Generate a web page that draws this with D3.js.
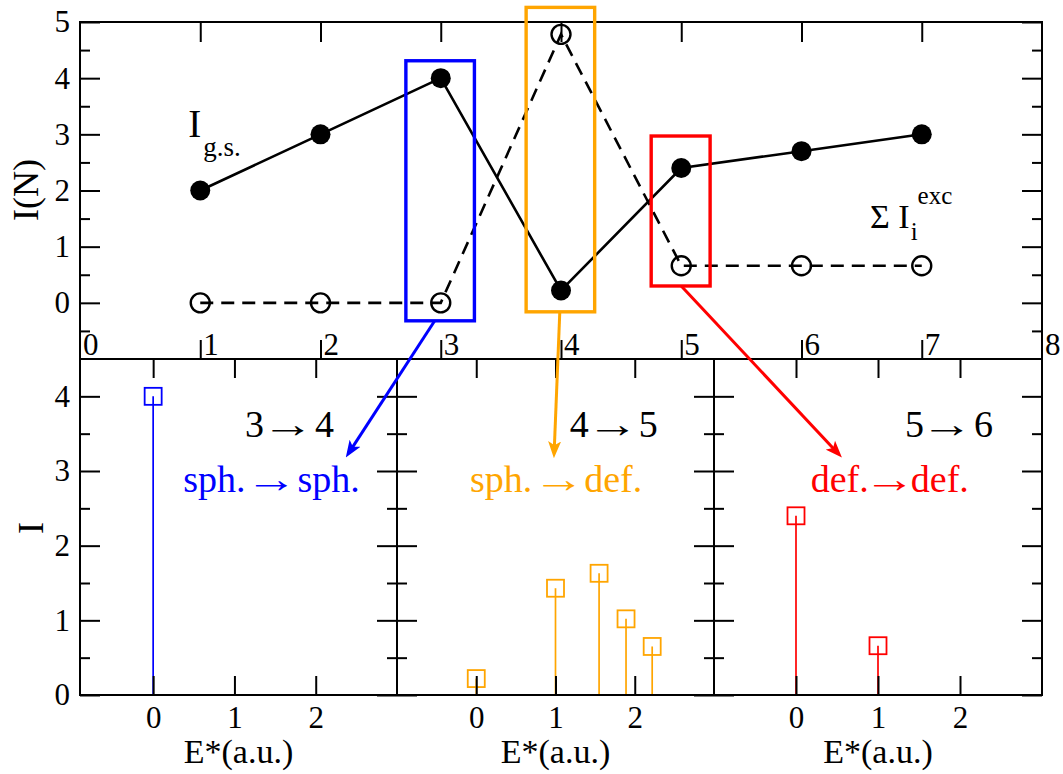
<!DOCTYPE html>
<html>
<head>
<meta charset="utf-8">
<script src="https://cdn.jsdelivr.net/npm/d3@7"></script>
<style>
  body { margin: 0; background: #fff; }
</style>
</head>
<body>
<svg id="chart" width="1063" height="774"></svg>
<script>
// ---- data ----------------------------------------------------------
const nValues      = [1, 2, 3, 4, 5, 6, 7];
const groundState  = [2, 3, 4, 0.22, 2.4, 2.7, 3];      // I_g.s.
const excitedSum   = [0, 0, 0, 4.78, 0.66, 0.66, 0.66];  // sum of I_i^exc

const topXTicks = [0, 1, 2, 3, 4, 5, 6, 7, 8];
const topYTicks = [0, 1, 2, 3, 4, 5];
const botXTicks = [0, 1, 2];
const botYTicks = [0, 1, 2, 3, 4];

// excitation spectra for the three transitions
const energy34    = [0];
const intensity34 = [4];
const energy45    = [0, 1, 1.55, 1.89, 2.22];
const intensity45 = [0.22, 1.43, 1.63, 1.02, 0.65];
const energy56    = [0, 1];
const intensity56 = [2.4, 0.66];

const transitions = [["3", "4"], ["4", "5"], ["5", "6"]];
const shapeLabels = [["sph.", "sph."], ["sph.", "def."], ["def.", "def."]];
const panelColors = ["#0000ff", "#ffa500", "#ff0000"];

// highlighted N values in the upper panel (box extents in data units)
const boxX = [[2.71, 3.28], [3.71, 4.28], [4.75, 5.24]];
const boxY = [[-0.32, 4.31], [-0.16, 5.26], [0.30, 2.97]];
// arrows: from a box (upper panel units) to a spectrum panel (its own units)
const arrowFrom = [[2.95, -0.32], [3.99, -0.16], [5.0, 0.30]];
const arrowTo   = [[2.37, 3.18], [0.98, 3.17], [0.56, 3.18]];

// ---- setup ---------------------------------------------------------
const FONT = '"Liberation Serif", "Times New Roman", serif';
const ARROW = "\u2192";
const svg = d3.select("#chart");
svg.append("rect").attr("width", 1063).attr("height", 774).attr("fill", "#fff");

const defs = svg.append("defs");
panelColors.forEach((c, i) => {
  defs.append("marker")
    .attr("id", "head" + i)
    .attr("viewBox", "-17 -7 17 14")
    .attr("refX", 0).attr("refY", 0)
    .attr("markerWidth", 17).attr("markerHeight", 14)
    .attr("markerUnits", "userSpaceOnUse")
    .attr("orient", "auto")
    .append("path")
    .attr("d", "M0,0 L-17,-6.5 L-13,0 L-17,6.5 Z")
    .attr("fill", c);
});

function styleAxis(g, fontSize) {
  g.select(".domain").remove();
  g.selectAll("line").attr("stroke", "#000").attr("stroke-width", 2);
  g.selectAll("text").attr("font-family", FONT).attr("font-size", fontSize).attr("fill", "#000");
  return g;
}
function addAxis(parent, axis, tx, ty, fontSize = 31) {
  return styleAxis(parent.append("g").attr("transform", `translate(${tx},${ty})`).call(axis), fontSize);
}
const halfSteps = (lo, hi) => d3.range(lo, hi + 0.001, 1).map(v => v + 0.5);

// ink extent of the arrow glyph, used to stretch it into a long thin arrow
const measureCtx = document.createElement("canvas").getContext("2d");
measureCtx.font = '38px "Liberation Serif"';
const arrowInk = measureCtx.measureText(ARROW);
const inkStart = -arrowInk.actualBoundingBoxLeft;
const inkWidth = arrowInk.actualBoundingBoxRight + arrowInk.actualBoundingBoxLeft;
const trailing = Math.max(0, arrowInk.width - arrowInk.actualBoundingBoxRight);
const ARROW_LEN = 33;

function arrowText(parent, parts, x, y, color, gaps) {
  const g = parent.append("g").attr("fill", color)
    .attr("font-family", FONT).attr("font-size", 38);
  const a = g.append("text").attr("x", x).attr("y", y).text(parts[0]);
  const ax = x + a.node().getComputedTextLength() + gaps[0];
  const sx = ARROW_LEN / inkWidth;
  g.append("text")
    .attr("transform", `translate(${ax - inkStart * sx},${y}) scale(${sx},1)`)
    .attr("letter-spacing", -trailing)
    .text(ARROW);
  g.append("text").attr("x", ax + ARROW_LEN + gaps[1]).attr("y", y).text(parts[1]);
  return g;
}

// ---- upper panel: I(N) ----------------------------------------------
const xN = d3.scaleLinear().domain([0, 8]).range([80, 1042]);
const yN = d3.scaleLinear().domain([-1, 5]).range([359, 22]);
const upper = svg.append("g");

const lineN = d3.line().x((d, i) => xN(nValues[i])).y(d => yN(d));
upper.append("path").datum(groundState).attr("d", lineN)
  .attr("fill", "none").attr("stroke", "#000").attr("stroke-width", 2.6);
upper.append("path").datum(excitedSum).attr("d", lineN)
  .attr("fill", "none").attr("stroke", "#000").attr("stroke-width", 2.6)
  .attr("stroke-dasharray", "13,8");

upper.selectAll("circle.gs").data(groundState).join("circle")
  .attr("class", "gs")
  .attr("cx", (d, i) => xN(nValues[i])).attr("cy", d => yN(d)).attr("r", 10)
  .attr("fill", "#000");
upper.selectAll("circle.exc").data(excitedSum).join("circle")
  .attr("class", "exc")
  .attr("cx", (d, i) => xN(nValues[i])).attr("cy", d => yN(d)).attr("r", 9.5)
  .attr("fill", "none").attr("stroke", "#000").attr("stroke-width", 2.4);

// frame and ticks (ticks point inward)
upper.append("rect").attr("x", 80).attr("y", 22).attr("width", 962).attr("height", 337)
  .attr("fill", "none").attr("stroke", "#000").attr("stroke-width", 2);
addAxis(upper, d3.axisLeft(yN).tickValues(topYTicks).tickSize(-20).tickPadding(10).tickFormat(d3.format("d")), 80, 0);
addAxis(upper, d3.axisLeft(yN).tickValues(halfSteps(-1, 4)).tickSize(-10).tickFormat(""), 80, 0);
addAxis(upper, d3.axisRight(yN).tickValues(topYTicks).tickSize(-20).tickFormat(""), 1042, 0);
addAxis(upper, d3.axisRight(yN).tickValues(halfSteps(-1, 4)).tickSize(-10).tickFormat(""), 1042, 0);
addAxis(upper, d3.axisTop(xN).tickValues(nValues).tickSize(-20).tickFormat(""), 0, 22);
addAxis(upper, d3.axisBottom(xN).tickValues(nValues).tickSize(-19).tickFormat(""), 0, 359);
upper.selectAll("text.nlab").data(topXTicks).join("text")
  .attr("class", "nlab")
  .attr("x", d => xN(d) + 3).attr("y", 355)
  .attr("font-family", FONT).attr("font-size", 31).text(d => d);

// series labels
const gsLabel = upper.append("text").attr("font-family", FONT)
  .attr("x", xN(0.9)).attr("y", yN(2.95));
gsLabel.append("tspan").attr("font-size", 39).text("I");
gsLabel.append("tspan").attr("font-size", 27).attr("dx", 2).attr("dy", 19).text("g.s.");

const excLabel = upper.append("text").attr("font-family", FONT)
  .attr("x", xN(6.57)).attr("y", yN(1.33)).attr("font-size", 34);
excLabel.append("tspan").text("\u03A3 I");
excLabel.append("tspan").attr("font-size", 25).attr("dx", 1).attr("dy", 12).text("i");
excLabel.append("tspan").attr("font-size", 25).attr("dx", 0).attr("dy", -36).text("exc");

upper.append("text").attr("font-family", FONT).attr("font-size", 36)
  .attr("transform", "translate(38,190) rotate(-90)")
  .attr("text-anchor", "middle").text("I(N)");

// ---- lower panels: spectra ------------------------------------------
const yI = d3.scaleLinear().domain([0, 4.5]).range([695, 359]);
const panels = [
  { dom: [-0.9, 3], rng: [80, 397],   e: energy34, v: intensity34 },
  { dom: [-1, 3],   rng: [397, 714],  e: energy45, v: intensity45 },
  { dom: [-1, 3],   rng: [714, 1042], e: energy56, v: intensity56 }
];
const transX = [1.13, 1.18, 1.33];
const shapeX = [0.37, -0.08, 0.18];
const transGaps = [[7, 11], [7, 10], [6, 11]];
const shapeGaps = [[9, 10], [10, 9], [4, 5]];

panels.forEach((p, k) => {
  const xE = d3.scaleLinear().domain(p.dom).range(p.rng);
  p.x = xE;
  const g = svg.append("g");
  const col = panelColors[k];
  const pts = p.e.map((e, i) => ({ e, v: p.v[i] }));

  g.selectAll("line.stem").data(pts).join("line")
    .attr("class", "stem")
    .attr("x1", d => xE(d.e)).attr("x2", d => xE(d.e))
    .attr("y1", yI(0)).attr("y2", d => yI(d.v))
    .attr("stroke", col).attr("stroke-width", 1.7);
  g.selectAll("rect.mark").data(pts).join("rect")
    .attr("class", "mark")
    .attr("x", d => xE(d.e) - 8.5).attr("y", d => yI(d.v) - 8.5)
    .attr("width", 17).attr("height", 17)
    .attr("fill", "none").attr("stroke", col).attr("stroke-width", 1.8);

  g.append("rect").attr("x", p.rng[0]).attr("y", 359)
    .attr("width", p.rng[1] - p.rng[0]).attr("height", 336)
    .attr("fill", "none").attr("stroke", "#000").attr("stroke-width", 2);

  const left = d3.axisLeft(yI).tickValues(botYTicks).tickSize(-20).tickPadding(10)
    .tickFormat(k === 0 ? d3.format("d") : "");
  addAxis(g, left, p.rng[0], 0);
  addAxis(g, d3.axisLeft(yI).tickValues(halfSteps(0, 3)).tickSize(-10).tickFormat(""), p.rng[0], 0);
  addAxis(g, d3.axisRight(yI).tickValues(botYTicks).tickSize(-20).tickFormat(""), p.rng[1], 0);
  addAxis(g, d3.axisRight(yI).tickValues(halfSteps(0, 3)).tickSize(-10).tickFormat(""), p.rng[1], 0);
  addAxis(g, d3.axisBottom(xE).tickValues(botXTicks).tickSize(-19).tickPadding(11).tickFormat(d3.format("d")), 0, 695);
  addAxis(g, d3.axisTop(xE).tickValues(botXTicks).tickSize(-19).tickFormat(""), 0, 359);

  g.append("text").attr("font-family", FONT).attr("font-size", 34)
    .attr("text-anchor", "middle")
    .attr("x", (p.rng[0] + p.rng[1]) / 2).attr("y", 763).text("E*(a.u.)");

  arrowText(g, transitions[k], xE(transX[k]), yI(3.46), "#000", transGaps[k]);
  arrowText(g, shapeLabels[k], xE(shapeX[k]), yI(2.72), col, shapeGaps[k]);
});

svg.append("text").attr("font-family", FONT).attr("font-size", 36)
  .attr("transform", "translate(43,528) rotate(-90)")
  .attr("text-anchor", "middle").text("I");

// ---- highlight boxes and arrows -------------------------------------
const notes = svg.append("g");
boxX.forEach((bx, k) => {
  const x0 = xN(bx[0]), x1 = xN(bx[1]);
  const y0 = yN(boxY[k][1]), y1 = yN(boxY[k][0]);
  notes.append("rect").attr("x", x0).attr("y", y0)
    .attr("width", x1 - x0).attr("height", y1 - y0)
    .attr("fill", "none").attr("stroke", panelColors[k]).attr("stroke-width", 3.4);

  const sx = xN(arrowFrom[k][0]), sy = yN(arrowFrom[k][1]);
  const tx = panels[k].x(arrowTo[k][0]), ty = yI(arrowTo[k][1]);
  const len = Math.hypot(tx - sx, ty - sy);
  const ex = tx - (tx - sx) / len * 8, ey = ty - (ty - sy) / len * 8;
  notes.append("line").attr("x1", sx).attr("y1", sy).attr("x2", ex).attr("y2", ey)
    .attr("stroke", panelColors[k]).attr("stroke-width", 3);
  notes.append("path")
    .attr("d", `M${sx},${sy}L${tx},${ty}`)
    .attr("stroke", "none").attr("fill", "none")
    .attr("marker-end", `url(#head${k})`);
});
</script>
</body>
</html>
